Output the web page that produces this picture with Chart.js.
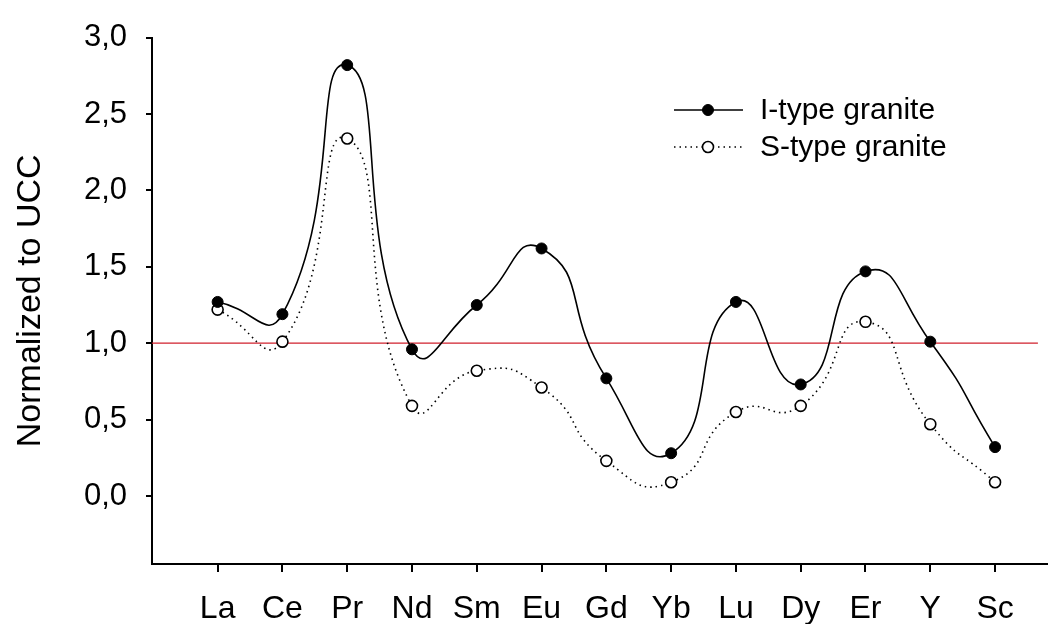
<!DOCTYPE html>
<html>
<head>
<meta charset="utf-8">
<script src="https://cdn.jsdelivr.net/npm/chart.js@4"></script>
<style>
  html, body { margin: 0; padding: 0; background: #fff; }
  #wrap { width: 1054px; height: 624px; }
</style>
</head>
<body>
<div id="wrap"><canvas id="ree"></canvas></div>
<script>
const elements = ['La', 'Ce', 'Pr', 'Nd', 'Sm', 'Eu', 'Gd', 'Yb', 'Lu', 'Dy', 'Er', 'Y', 'Sc'];
const iType = [1.27, 1.19, 2.82, 0.96, 1.25, 1.62, 0.77, 0.28, 1.27, 0.73, 1.47, 1.01, 0.32];
const sType = [1.22, 1.01, 2.34, 0.59, 0.82, 0.71, 0.23, 0.09, 0.55, 0.59, 1.14, 0.47, 0.09];
const yTicks = [0, 0.5, 1.0, 1.5, 2.0, 2.5, 3.0];
const refLevel = 1.0;

const FONT = "'Liberation Sans', Arial, sans-serif";

const toXY = arr => arr.map((v, i) => ({ x: i, y: v }));

// horizontal reference line at UCC = 1
const refLine = {
  id: 'refLine',
  beforeDatasetsDraw(chart) {
    const { ctx, chartArea, scales } = chart;
    const y = scales.y.getPixelForValue(refLevel);
    ctx.save();
    ctx.strokeStyle = '#d0202c';
    ctx.lineWidth = 1.3;
    ctx.beginPath();
    ctx.moveTo(chartArea.left, y);
    ctx.lineTo(chartArea.right - 9, y);
    ctx.stroke();
    ctx.restore();
  },
};

// legend in the upper right, SigmaPlot style
const sideLegend = {
  id: 'sideLegend',
  afterDraw(chart) {
    const { ctx } = chart;
    ctx.save();
    ctx.font = '30px ' + FONT;
    ctx.textBaseline = 'middle';
    chart.data.datasets.forEach((ds, i) => {
      const y = 110 + i * 37;
      ctx.strokeStyle = '#000';
      ctx.lineWidth = ds.borderWidth;
      ctx.setLineDash(ds.borderDash || []);
      ctx.beginPath();
      ctx.moveTo(674, y);
      ctx.lineTo(743, y);
      ctx.stroke();
      ctx.setLineDash([]);
      ctx.beginPath();
      ctx.arc(708, y, ds.pointRadius, 0, Math.PI * 2);
      ctx.fillStyle = ds.pointBackgroundColor;
      ctx.fill();
      ctx.lineWidth = ds.pointBorderWidth;
      ctx.stroke();
      ctx.fillStyle = '#000';
      ctx.fillText(ds.label, 760, y + 1);
    });
    ctx.restore();
  },
};

new Chart(document.getElementById('ree'), {
  type: 'line',
  data: {
    datasets: [
      {
        label: 'I-type granite', data: toXY(iType),
        borderColor: '#000', borderWidth: 1.6, tension: 0.58,
        pointRadius: 5.5, pointBackgroundColor: '#000', pointBorderColor: '#000', pointBorderWidth: 1,
      },
      {
        label: 'S-type granite', data: toXY(sType),
        borderColor: '#000', borderWidth: 1.6, borderDash: [1.5, 4], tension: 0.58,
        pointRadius: 5.5, pointBackgroundColor: '#fff', pointBorderColor: '#000', pointBorderWidth: 1.6,
      },
    ],
  },
  options: {
    responsive: true, maintainAspectRatio: false, animation: false,
    layout: { padding: { top: 5, right: 2, bottom: 0, left: 0 } },
    plugins: { legend: { display: false }, tooltip: { enabled: false } },
    scales: {
      x: {
        type: 'linear', min: -1.013, max: 12.8,
        afterBuildTicks: s => { s.ticks = elements.map((_, i) => ({ value: i })); },
        afterFit: s => { s.height = 60; },
        grid: { drawOnChartArea: false, drawTicks: true, tickLength: 8, color: '#000', lineWidth: 2 },
        border: { display: true, color: '#000', width: 2 },
        ticks: { color: '#000', font: { family: FONT, size: 32 }, padding: 18, maxRotation: 0, autoSkip: false,
          callback: v => elements[v] },
      },
      y: {
        min: -0.445, max: 3.0,
        afterBuildTicks: s => { s.ticks = yTicks.map(v => ({ value: v })); },
        afterFit: s => { s.width = 152; },
        grid: { drawOnChartArea: false, drawTicks: true, tickLength: 6, color: '#000', lineWidth: 2 },
        border: { display: true, color: '#000', width: 2 },
        ticks: { color: '#000', font: { family: FONT, size: 31 }, padding: 19,
          callback: v => v.toFixed(1).replace('.', ',') },
        title: { display: true, text: 'Normalized to UCC', color: '#000',
          font: { family: FONT, size: 34 }, padding: { top: 10, bottom: 10 } },
      },
    },
  },
  plugins: [refLine, sideLegend],
});
</script>
</body>
</html>
